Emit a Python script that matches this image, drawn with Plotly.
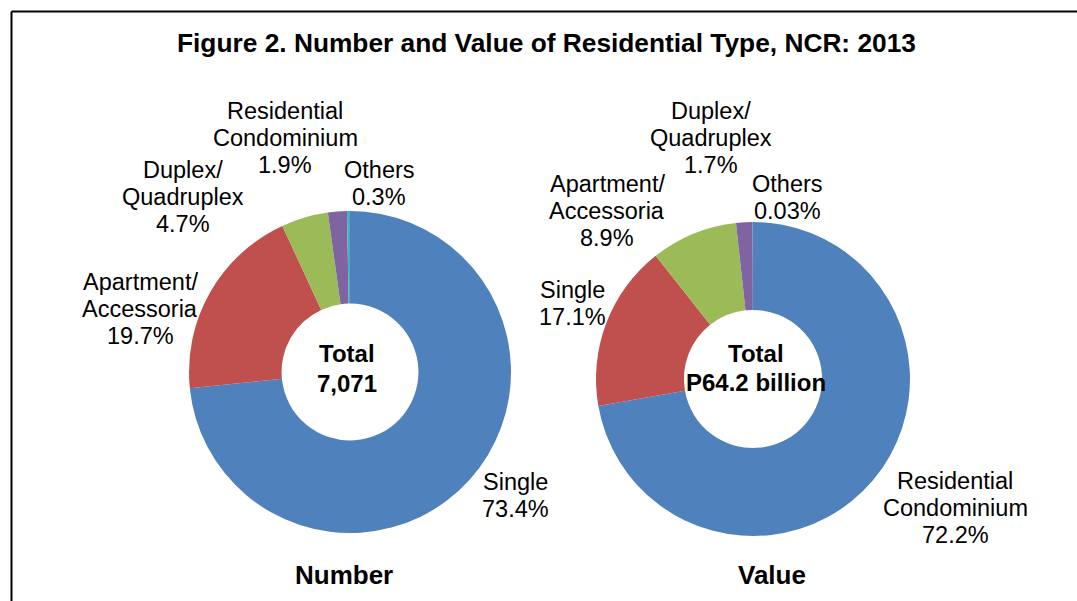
import plotly.graph_objects as go

W, H = 1077, 601

# ---- data ----
number_labels = ["Single", "Apartment/<br>Accessoria", "Duplex/<br>Quadruplex",
                 "Residential<br>Condominium", "Others"]
number_pct = [73.4, 19.7, 4.7, 1.9, 0.3]
number_total = "Total<br>7,071"

value_labels = ["Residential<br>Condominium", "Single", "Apartment/<br>Accessoria",
                "Duplex/<br>Quadruplex", "Others"]
value_pct = [72.2, 17.1, 8.9, 1.7, 0.03]
value_total = "Total<br>P64.2 billion"

title = "Figure 2. Number and Value of Residential Type, NCR: 2013"
sub_titles = ["Number", "Value"]

colors = ["#4F81BD", "#C0504D", "#9BBB59", "#8064A2", "#4BACC6"]
FONT = "Liberation Sans, Arial, sans-serif"


def px_dom(cx, cy, r):
    return dict(x=[(cx - r) / W, (cx + r) / W], y=[1 - (cy + r) / H, 1 - (cy - r) / H])


fig = go.Figure()
fig.add_trace(go.Pie(values=number_pct, labels=number_labels, sort=False, direction="clockwise",
                     rotation=0, hole=0.425, textinfo="none", hoverinfo="label+percent",
                     marker=dict(colors=colors, line=dict(width=0)),
                     domain=px_dom(350, 372, 161), showlegend=False))
fig.add_trace(go.Pie(values=value_pct, labels=value_labels, sort=False, direction="clockwise",
                     rotation=0, hole=0.44, textinfo="none", hoverinfo="label+percent",
                     marker=dict(colors=colors, line=dict(width=0)),
                     domain=px_dom(753, 379, 157), showlegend=False))

annotations = []


def add_lines(text, cx, y0, size=23, bold=False, step=27):
    for i, line in enumerate(text.split("<br>")):
        t = f"<b>{line}</b>" if bold else line
        annotations.append(dict(text=t, x=cx / W, y=1 - (y0 + i * step) / H, xref="paper",
                                yref="paper", xanchor="center", yanchor="middle",
                                showarrow=False, font=dict(family=FONT, size=size, color="#000")))


def fmt(p):
    return f"{p:g}%"


# label positions (px): center x, first line y
num_pos = [(515, 482), (140, 282), (183, 170), (285, 111), (379, 170)]
val_pos = [(955, 481), (572, 290), (607, 184), (711, 111), (787, 184)]

for lab, p, (cx, cy) in zip(number_labels, number_pct, num_pos):
    add_lines(lab + "<br>" + fmt(p), cx, cy, size=23.5)
for lab, p, (cx, cy) in zip(value_labels, value_pct, val_pos):
    add_lines(lab + "<br>" + fmt(p), cx, cy, size=23.5)

add_lines(number_total, 347, 353, size=24, bold=True, step=30)
add_lines(value_total, 756, 353, size=24, bold=True, step=29)

add_lines(title, 546, 43, size=26.3, bold=True)
add_lines(sub_titles[0], 344, 575, size=26, bold=True)
add_lines(sub_titles[1], 772, 575, size=26, bold=True)

shapes = [
    dict(type="line", xref="paper", yref="paper", x0=11.5 / W, x1=1.01, y0=1 - 11.5 / H, y1=1 - 11.5 / H,
         line=dict(color="#000", width=2)),
    dict(type="line", xref="paper", yref="paper", x0=11.5 / W, x1=11.5 / W, y0=1 - 11.5 / H, y1=-0.05,
         line=dict(color="#000", width=2)),
]

fig.update_layout(width=W, height=H, margin=dict(l=0, r=0, t=0, b=0),
                  paper_bgcolor="white", plot_bgcolor="white",
                  annotations=annotations, shapes=shapes)

fig.write_html("out.html", config={"displayModeBar": False},
               post_script="document.body.style.margin='0';document.body.style.overflow='hidden';")
